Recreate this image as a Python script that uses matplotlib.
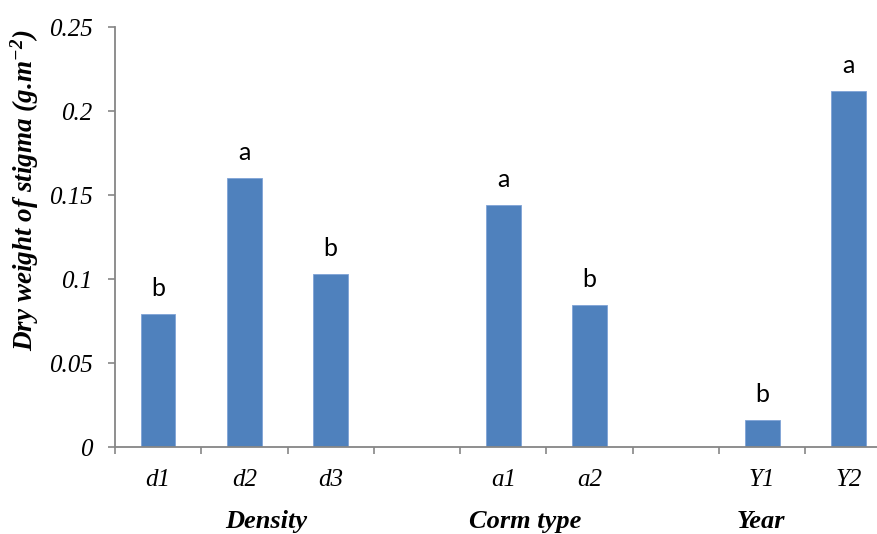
import matplotlib
matplotlib.use("Agg")
import matplotlib.pyplot as plt
from matplotlib.ticker import FixedLocator

plt.rcParams["mathtext.fontset"] = "custom"
plt.rcParams["mathtext.rm"] = "Liberation Serif:bold:italic"
plt.rcParams["mathtext.it"] = "Liberation Serif:bold:italic"
plt.rcParams["mathtext.bf"] = "Liberation Serif:bold:italic"

categories = ["d1", "d2", "d3", "a1", "a2", "Y1", "Y2"]
positions = [0, 1, 2, 4, 5, 7, 8]
values = [0.079, 0.160, 0.1028, 0.144, 0.0845, 0.016, 0.212]
letters = ["b", "a", "b", "a", "b", "b", "a"]
groups = ["Density", "Corm type", "Year"]
group_centers = [1.25, 4.25, 6.99]
yticks = [0, 0.05, 0.1, 0.15, 0.2, 0.25]
ytick_labels = ["0", "0.05", "0.1", "0.15", "0.2", "0.25"]

W, H = 877, 534
fig = plt.figure(figsize=(W / 100, H / 100), dpi=100)
left, bottom_px, top_px = 115, 447, 27
slot = 86.3
ax = fig.add_axes([left / W, (H - bottom_px) / H, 9 * slot / W, (bottom_px - top_px) / H])

color = "#4F81BD"
ax.bar(positions, values, width=0.4, color=color, edgecolor="#7FA3D6", linewidth=0.6, zorder=2)

for x, v, l in zip(positions, values, letters):
    ax.text(x, v + 0.0107, l, ha="center", va="baseline", fontsize=18,
            family=["Lato", "DejaVu Sans"], color="black")

ax.set_xlim(-0.5, 8.5)
ax.set_ylim(0, 0.25)
ax.set_yticks(yticks)
ax.set_yticklabels(ytick_labels, family="Liberation Serif", style="italic", fontsize=18)

ax.xaxis.set_major_locator(FixedLocator(positions))
ax.set_xticklabels(categories, family="Liberation Serif", style="italic", fontsize=18)
ax.xaxis.set_minor_locator(FixedLocator([i - 0.5 for i in range(10)]))
ax.tick_params(axis="x", which="major", length=0, pad=16)
ax.tick_params(axis="x", which="minor", length=5, width=1.2, color="#868686", direction="out")
ax.tick_params(axis="y", length=5, width=1.2, color="#868686", direction="out", pad=11)

for s in ["top", "right"]:
    ax.spines[s].set_visible(False)
for s in ["left", "bottom"]:
    ax.spines[s].set_color("#868686")
    ax.spines[s].set_linewidth(1.3)

ax.set_ylabel(r"Dry weight of stigma (g.m$^{-2}$)", family="Liberation Serif",
              style="italic", weight="bold", fontsize=19.5)
ax.yaxis.set_label_coords(-0.095, 0.612)

for g, c in zip(groups, group_centers):
    ax.text(c, -0.0445, g, ha="center", va="center", family="Liberation Serif",
            style="italic", weight="bold", fontsize=19)

fig.savefig("out.png", dpi=100)
